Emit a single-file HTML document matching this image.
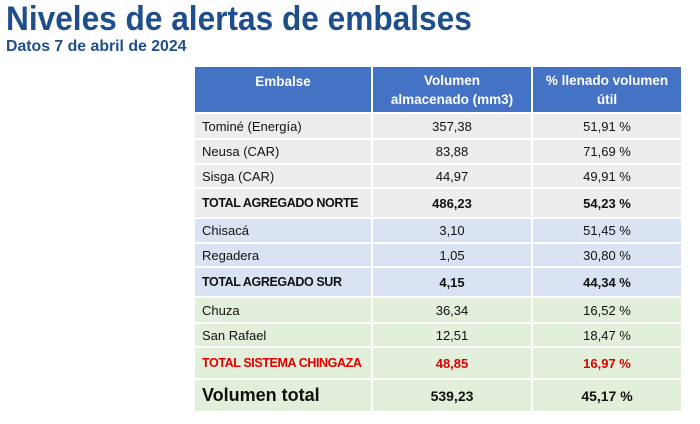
<!DOCTYPE html>
<html><head><meta charset="utf-8"><style>
body{margin:0;width:700px;height:424px;background:#fff;font-family:"Liberation Sans",sans-serif;position:relative;overflow:hidden}
.t{position:absolute;left:6px;top:0px;font-size:34px;font-weight:bold;color:#1f4e8c;white-space:nowrap;transform-origin:0 0;transform:scaleX(0.93)}
.s{position:absolute;left:6px;top:38px;font-size:16px;font-weight:bold;color:#1f4e8c;white-space:nowrap;transform-origin:0 0;transform:scaleX(0.99)}
.r{position:absolute;left:195px;width:486px;display:flex;font-size:13px;color:#111;white-space:nowrap}
.r div{box-sizing:border-box;display:flex;align-items:center;border-right:2px solid #fff}
.c1{width:178px;padding-left:7px}
.c2{width:160px;justify-content:center}
.c3{width:148px;justify-content:center;border-right:none!important}
.h{background:#4472c4;color:#fff;font-weight:bold;font-size:13.5px;text-align:center;line-height:19px}
.h div{justify-content:center;padding:0}
.g{background:#ededed}.b{background:#dae3f3}.gr{background:#e2efda}
.bo{font-weight:bold}.red{color:#e00000;font-weight:bold}
.bo .c1,.red .c1{font-size:12.5px;letter-spacing:-0.4px}
</style></head><body>
<div class="t">Niveles de alertas de embalses</div>
<div class="s">Datos 7 de abril de 2024</div>
<div class="r h" style="top:67px;height:45px"><div class="c1" style="align-items:flex-start;padding-top:5px">Embalse</div><div class="c2">Volumen<br>almacenado (mm3)</div><div class="c3">% llenado volumen<br>útil</div></div>
<div class="r g" style="top:114px;height:24px"><div class="c1">Tominé (Energía)</div><div class="c2">357,38</div><div class="c3">51,91 %</div></div>
<div class="r g" style="top:140px;height:23px"><div class="c1">Neusa (CAR)</div><div class="c2">83,88</div><div class="c3">71,69 %</div></div>
<div class="r g" style="top:165px;height:22px"><div class="c1">Sisga (CAR)</div><div class="c2">44,97</div><div class="c3">49,91 %</div></div>
<div class="r g bo" style="top:189px;height:28px"><div class="c1">TOTAL AGREGADO NORTE</div><div class="c2">486,23</div><div class="c3">54,23 %</div></div>
<div class="r b" style="top:219px;height:23px"><div class="c1">Chisacá</div><div class="c2">3,10</div><div class="c3">51,45 %</div></div>
<div class="r b" style="top:244px;height:22px"><div class="c1">Regadera</div><div class="c2">1,05</div><div class="c3">30,80 %</div></div>
<div class="r b bo" style="top:268px;height:28px"><div class="c1">TOTAL AGREGADO SUR</div><div class="c2">4,15</div><div class="c3">44,34 %</div></div>
<div class="r gr" style="top:298px;height:24px"><div class="c1">Chuza</div><div class="c2">36,34</div><div class="c3">16,52 %</div></div>
<div class="r gr" style="top:324px;height:22px"><div class="c1">San Rafael</div><div class="c2">12,51</div><div class="c3">18,47 %</div></div>
<div class="r gr red" style="top:348px;height:30px"><div class="c1">TOTAL SISTEMA CHINGAZA</div><div class="c2">48,85</div><div class="c3">16,97 %</div></div>
<div class="r gr bo" style="top:380px;height:31px;font-size:14px"><div class="c1" style="font-size:18px;letter-spacing:0">Volumen total</div><div class="c2">539,23</div><div class="c3">45,17 %</div></div>
</body></html>
